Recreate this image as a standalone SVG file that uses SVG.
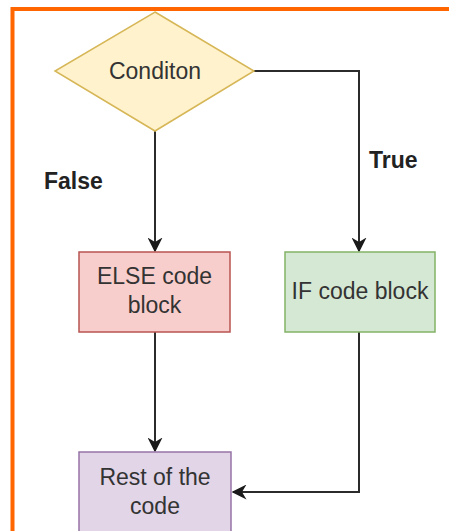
<svg xmlns="http://www.w3.org/2000/svg" width="449" height="531" viewBox="0 0 449 531">
  <style>
    .lbl { font-family: "Liberation Sans", Arial, sans-serif; font-size: 23px; fill: #333333; text-anchor: middle; }
    .edge-lbl { font-family: "Liberation Sans", Arial, sans-serif; font-size: 23px; font-weight: bold; fill: #222222; }
    .wire { fill: none; stroke: #2b2b2b; stroke-width: 2; }
  </style>
  <defs>
    <marker id="arrowL" viewBox="0 0 10 10" refX="9" refY="5" markerWidth="15" markerHeight="15" orient="auto" markerUnits="userSpaceOnUse">
      <path d="M0,0 L10,5 L0,10 L3,5 Z" fill="#1a1a1a"/>
    </marker>
  </defs>

  <rect width="449" height="531" fill="#ffffff"/>

  <!-- outer frame -->
  <rect x="12.5" y="9" width="460" height="540" fill="none" stroke="#ff6600" stroke-width="4"/>

  <g id="connectors">
    <path class="wire" d="M155,131 V251" marker-end="url(#arrowL)"/>
    <path class="wire" d="M254,71 H359 V251" marker-end="url(#arrowL)"/>
    <path class="wire" d="M155,332 V451" marker-end="url(#arrowL)"/>
    <path class="wire" d="M359,332 V492 H233" marker-end="url(#arrowL)"/>
    <text class="edge-lbl" x="44" y="189">False</text>
    <text class="edge-lbl" x="369" y="168">True</text>
  </g>

  <g id="condition">
    <polygon points="155,12 254,71 155,131 55,71" fill="#fff2cc" stroke="#d6b656" stroke-width="1.5"/>
    <text class="lbl" x="155" y="79">Conditon</text>
  </g>

  <g id="else-block">
    <rect x="79" y="252" width="151" height="80" fill="#f8cecc" stroke="#b85450" stroke-width="1.5"/>
    <text class="lbl" x="154.5" y="284">ELSE code</text>
    <text class="lbl" x="154.5" y="313">block</text>
  </g>

  <g id="if-block">
    <rect x="285" y="252" width="150" height="80" fill="#d5e8d4" stroke="#82b366" stroke-width="1.5"/>
    <text class="lbl" x="360" y="299">IF code block</text>
  </g>

  <g id="rest">
    <rect x="79" y="452" width="152" height="80" fill="#e1d5e7" stroke="#9673a6" stroke-width="1.5"/>
    <text class="lbl" x="155" y="485">Rest of the</text>
    <text class="lbl" x="155" y="514">code</text>
  </g>
</svg>
